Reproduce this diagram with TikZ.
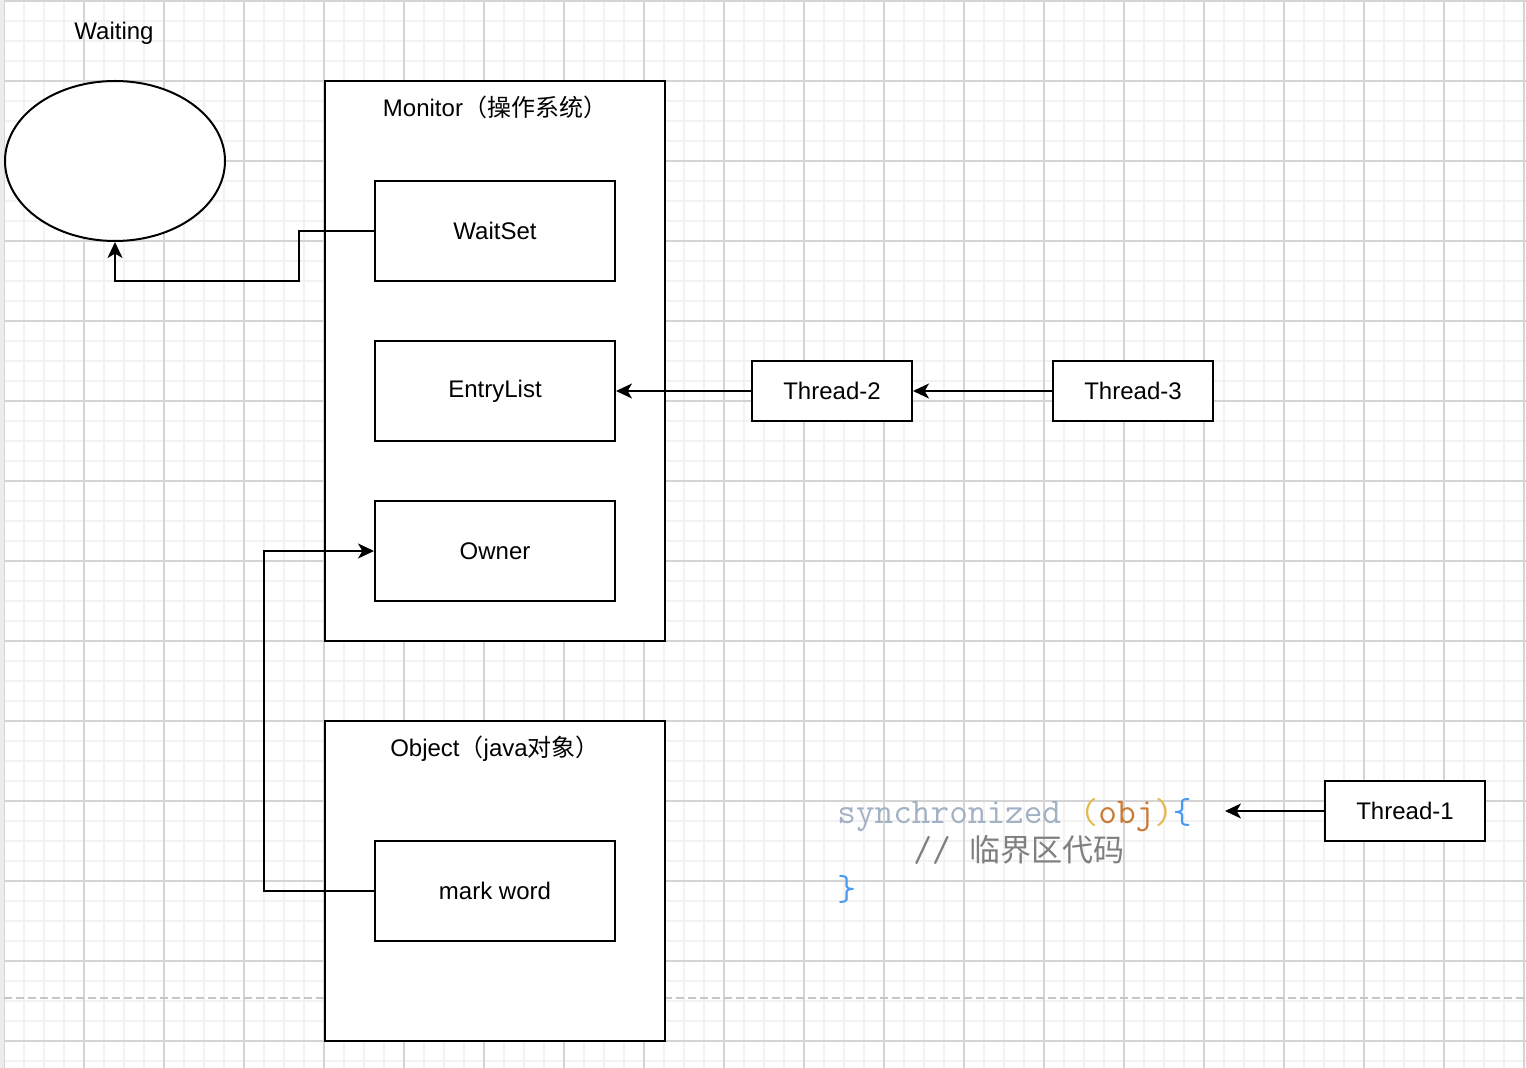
\documentclass[tikz,border=0pt]{standalone}
\usepackage{fontspec}
\setmainfont{Liberation Sans}
\newfontfamily\cjk{Noto Sans CJK SC}
\usetikzlibrary{positioning,shapes.geometric,arrows.meta}

\definecolor{gridminor}{HTML}{F2F2F2}
\definecolor{gridmajor}{HTML}{D4D4D4}
\definecolor{kwgrey}{HTML}{A2B1C3}
\definecolor{parengold}{HTML}{E6B84E}
\definecolor{objbrown}{HTML}{C97A36}
\definecolor{braceblue}{HTML}{4A9BF0}
\definecolor{commentgrey}{HTML}{7F7F7F}

\tikzset{
  box/.style={draw,line width=1pt,fill=white,inner sep=0pt,
    minimum width=120pt,minimum height=50pt,font=\fontsize{12}{14}\selectfont},
  threadbox/.style={box,minimum width=80pt,minimum height=30pt},
  bigbox/.style={draw,line width=1pt,fill=white,minimum width=170pt},
  label/.style={inner sep=0pt,font=\fontsize{12}{14}\selectfont},
  code/.style={inner sep=0pt,anchor=base west,font=\ttfamily\fontsize{18.1}{19}\selectfont},
  arr/.style={line width=1pt,-{Stealth[length=8pt,width=7.5pt,inset=2.2pt]}}
}

\begin{document}
\begin{tikzpicture}[x=0.5pt,y=-0.5pt]
\useasboundingbox (0,0) rectangle (1526,1068);
% grid
\foreach \gx in {4,24,...,1524} \draw[gridminor,line width=0.7pt] (\gx,0) -- (\gx,1068);
\foreach \gy in {1,21,...,1061} \draw[gridminor,line width=0.7pt] (4,\gy) -- (1526,\gy);
\foreach \gx in {4,84,...,1524} \draw[gridmajor,line width=0.6pt] (\gx,0) -- (\gx,1068);
\foreach \gy in {1,81,...,1041} \draw[gridmajor,line width=0.6pt] (4,\gy) -- (1526,\gy);
\fill[gray!15] (0,0) rectangle (4,1068);
\draw[gray!45,line width=1pt,dash pattern=on 4pt off 2pt] (4,998) -- (1526,998);

% waiting
\node[label,anchor=base] (waitlabel) at (114,40) {Waiting};
\node[ellipse,draw,line width=1pt,fill=white,minimum width=110pt,minimum height=80pt,inner sep=0pt] (waiting) at (115,161) {};

% monitor
\node[bigbox,minimum height=280pt] (monitor) at (495,361) {};
\node[label,anchor=base] (monlabel) at (495,117) {Monitor{\cjk（操作系统）}};
\node[box] (waitset) at (495,231) {WaitSet};
\node[box] (entrylist) at (495,391) {EntryList};
\node[box] (owner) at (495,551) {Owner};

% object
\node[bigbox,minimum height=160pt] (object) at (495,881) {};
\node[label,anchor=base] (objlabel) at (495,757) {Object{\cjk（}java{\cjk 对象）}};
\node[box] (markword) at (495,891) {mark word};

% threads
\node[threadbox] (thread2) at (832,391) {Thread-2};
\node[threadbox] (thread3) at (1133,391) {Thread-3};
\node[threadbox] (thread1) at (1405,811) {Thread-1};

% code
\node[code] (code1) at (837,823) {\textcolor{kwgrey}{synchronized}\ \textcolor{parengold}{(}\textcolor{objbrown}{obj}\textcolor{parengold}{)}\textcolor{braceblue}{\{}};
\node[code] (code2) at (913,861) {\color{commentgrey}//\ {\cjk\fontsize{15.5}{19}\selectfont 临界区代码}};
\node[code] (code3) at (837,900) {\textcolor{braceblue}{\}}};
\coordinate (codeend) at (1225,811);

% connectors
\draw[arr] (waitset.west) -- ++(-75,0) -- ++(0,50) -| (waiting.south);
\draw[arr] (thread2.west) -- (entrylist.east);
\draw[arr] (thread3.west) -- (thread2.east);
\draw[arr] (markword.west) -- ++(-110,0) |- (owner.west);
\draw[arr] (thread1.west) -- (codeend);
\end{tikzpicture}
\end{document}
